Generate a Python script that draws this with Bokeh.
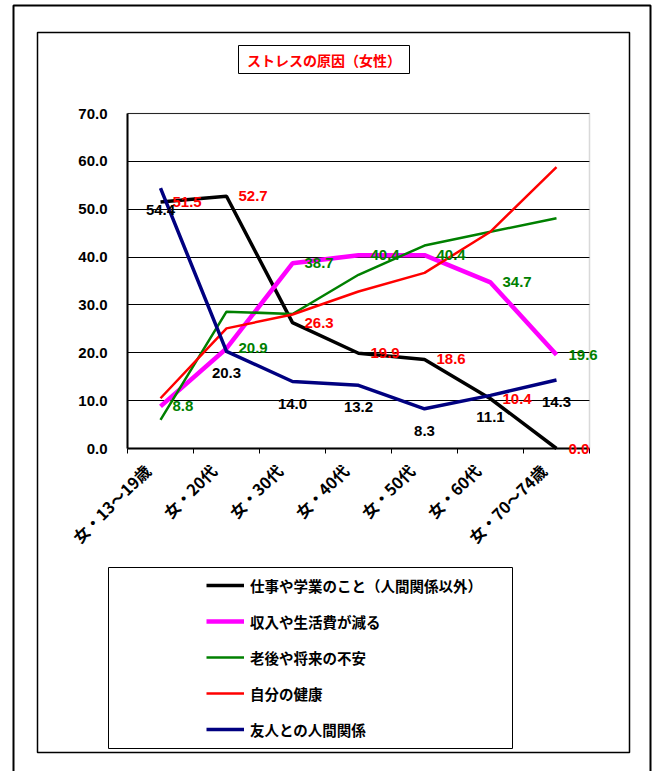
from bokeh.plotting import figure
from bokeh.models import (ColumnDataSource, LabelSet, Label, Legend, LegendItem,
                          BoxAnnotation, FixedTicker, Range1d, PrintfTickFormatter)
from bokeh.core.properties import value
from bokeh.embed import file_html
from bokeh.resources import INLINE
from math import pi

# --- data -------------------------------------------------------------
categories = ["女・13～19歳", "女・20代", "女・30代", "女・40代",
              "女・50代", "女・60代", "女・70～74歳"]
work = [51.5, 52.7, 26.3, 19.9, 18.6, 10.4, 0.0]        # 仕事や学業のこと
income = [8.8, 20.9, 38.7, 40.4, 40.4, 34.7, 19.6]      # 収入や生活費が減る
future = [6.0, 28.6, 28.1, 36.3, 42.4, 45.3, 48.1]      # 老後や将来の不安
health = [10.5, 25.1, 28.0, 32.8, 36.7, 45.3, 58.8]     # 自分の健康
friends = [54.4, 20.3, 14.0, 13.2, 8.3, 11.1, 14.3]     # 友人との人間関係
y_ticks = [0, 10, 20, 30, 40, 50, 60, 70]
title_text = "ストレスの原因（女性）"
legend_labels = ["仕事や学業のこと（人間関係以外）", "収入や生活費が減る",
                 "老後や将来の不安", "自分の健康", "友人との人間関係"]

# --- layout constants (page pixels) -------------------------------------
W, H = 654, 771
# the plotting area occupies these page pixels; the frame spans the whole page
AREA_L, AREA_R, AREA_T, AREA_B = 127, 589, 113, 448
N = len(categories)
Y_MAX = 70
px_x = (AREA_R - AREA_L) / N
px_y = (AREA_B - AREA_T) / Y_MAX
x_range = Range1d(-AREA_L / px_x, N + (W - AREA_R) / px_x)
y_range = Range1d(-(H - AREA_B) / px_y, Y_MAX + AREA_T / px_y)

NUM_FONT = "Liberation Sans"
JP_FONT = "Noto Sans CJK JP"

xs = [i + 0.5 for i in range(N)]
# rotated category labels sit slightly left of their category centre
LABEL_SHIFT = 0.2
label_ticks = [round(x - LABEL_SHIFT, 2) for x in xs]

p = figure(width=W, height=H, output_backend="svg", toolbar_location=None,
           x_range=x_range, y_range=y_range,
           min_border=0, min_border_left=0, min_border_right=0,
           min_border_top=0, min_border_bottom=0,
           background_fill_color="white", border_fill_color="white")
p.outline_line_color = None

# axes, pinned to the plotting area
p.xaxis.fixed_location = 0
p.xaxis.bounds = (0, N)
p.xaxis.ticker = FixedTicker(ticks=label_ticks, minor_ticks=list(range(N + 1)))
p.xaxis.major_label_overrides = {t: c for t, c in zip(label_ticks, categories)}
p.xaxis.major_label_orientation = pi / 4
p.xaxis.major_tick_out = 0
p.xaxis.major_tick_in = 0
p.xaxis.minor_tick_out = 5
p.xaxis.minor_tick_in = 0
p.xaxis.minor_tick_line_color = "black"
p.xaxis.minor_tick_line_width = 1
p.xaxis.axis_line_width = 2
p.xaxis.major_label_standoff = 14
p.xaxis.major_label_text_font = JP_FONT
p.xaxis.major_label_text_font_style = "bold"
p.xaxis.major_label_text_font_size = "16px"
p.xaxis.major_label_text_color = "black"

p.yaxis.fixed_location = 0
p.yaxis.bounds = (0, Y_MAX)
p.yaxis.ticker = FixedTicker(ticks=y_ticks)
p.yaxis.formatter = PrintfTickFormatter(format="%.1f")
p.yaxis.major_tick_out = 0
p.yaxis.major_tick_in = 0
p.yaxis.minor_tick_out = 0
p.yaxis.minor_tick_in = 0
p.yaxis.axis_line_width = 2
p.yaxis.major_label_standoff = 20
p.yaxis.major_label_text_font = NUM_FONT
p.yaxis.major_label_text_font_style = "bold"
p.yaxis.major_label_text_font_size = "15px"
p.yaxis.major_label_text_color = "black"

p.xgrid.grid_line_color = None
p.ygrid.ticker = FixedTicker(ticks=y_ticks[1:])
p.ygrid.cross_bounds = (0, N)
p.ygrid.grid_line_color = "black"
p.ygrid.grid_line_width = 1

# grey border of the plotting area
p.add_layout(BoxAnnotation(left=0, right=N, bottom=0, top=Y_MAX,
                           fill_color=None, fill_alpha=0,
                           line_color="#808080", line_width=1.5, level="underlay"))

# --- series -------------------------------------------------------------
series = [
    (work, "#000000", 3.5),
    (income, "#FF00FF", 4.5),
    (future, "#008000", 2.5),
    (health, "#FF0000", 2.5),
    (friends, "#000080", 3.5),
]
renderers = []
for vals, color, lw in series:
    r = p.line(xs, vals, line_color=color, line_width=lw)
    renderers.append(r)

# data labels: (values, text colour, x offset, y offset, align)
label_specs = [
    (work, "#FF0000", 12, 0, "left"),
    (income, "#008000", 12, 0, "left"),
    (friends, "#000000", 0, -22, "center"),
]
for vals, color, dx, dy, align in label_specs:
    src = ColumnDataSource(dict(x=xs, y=vals, t=[f"{v:.1f}" for v in vals]))
    p.add_layout(LabelSet(x="x", y="y", text="t", source=src,
                          x_offset=dx, y_offset=dy,
                          text_align=align, text_baseline="middle",
                          text_color=color, text_font=value(NUM_FONT),
                          text_font_style="bold", text_font_size="15px"))


# --- frames, title and legend box (page pixels -> screen units) ---------
def sx(px):
    return px


def sy(py):
    return H - py


def frame_box(left, top, right, bottom, width, color="black"):
    return BoxAnnotation(left=sx(left), right=sx(right), top=sy(top), bottom=sy(bottom),
                         left_units="screen", right_units="screen",
                         top_units="screen", bottom_units="screen",
                         fill_color=None, fill_alpha=0,
                         line_color=color, line_width=width, line_alpha=1)


p.add_layout(frame_box(13, 5, 650, 800, 2))
p.add_layout(frame_box(37, 32, 629, 752, 1.5))
p.add_layout(frame_box(238, 45, 409, 73, 1))
p.add_layout(frame_box(108, 567, 512, 748, 1))

p.add_layout(Label(x=sx(323.5), y=sy(59), x_units="screen", y_units="screen",
                   text=title_text, text_align="center", text_baseline="middle",
                   text_color="#FF0000", text_font=JP_FONT, text_font_style="bold",
                   text_font_size="14px"))

legend = Legend(items=[LegendItem(label=lab, renderers=[r])
                       for lab, r in zip(legend_labels, renderers)],
                location=(sx(206), sy(740)), orientation="vertical",
                glyph_width=38, glyph_height=22, label_height=22,
                label_standoff=6, spacing=14, padding=0, margin=0,
                border_line_color=None, background_fill_alpha=0,
                label_text_font=JP_FONT, label_text_font_style="bold",
                label_text_font_size="14.5px", label_text_color="black")
p.add_layout(legend)

open("out.html", "w").write(file_html(p, INLINE))
